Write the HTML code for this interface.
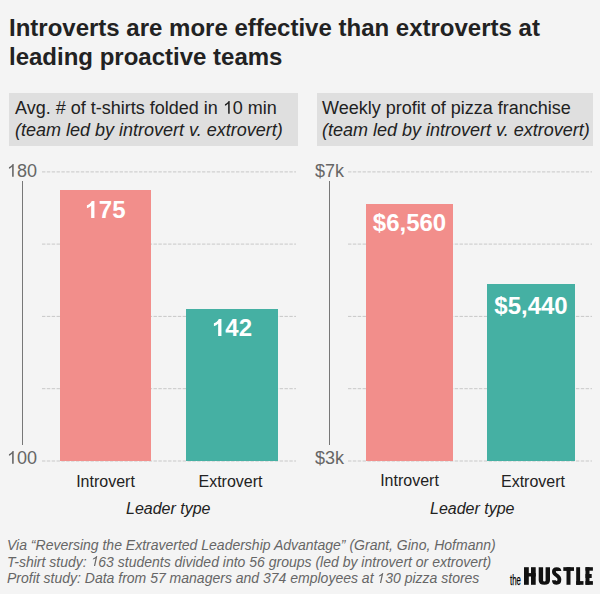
<!DOCTYPE html>
<html><head><meta charset="utf-8">
<style>
html,body{margin:0;padding:0;}
body{width:600px;height:594px;background:#f4f4f4;position:relative;overflow:hidden;font-family:"Liberation Sans",sans-serif;}
.a{position:absolute;white-space:nowrap;}
.title{left:9px;top:13px;font-size:24px;font-weight:bold;line-height:29px;color:#222;}
.hbox{position:absolute;top:93px;height:53px;background:#dfdfdf;}
.htxt{font-size:18px;line-height:22px;color:#222;}
.htxt i{font-style:italic;}
.tick{font-size:18px;color:#666;line-height:20px;}
.cat{font-size:16px;color:#222;line-height:18px;}
.lt{font-size:16px;color:#222;font-style:italic;line-height:18px;}
.val{font-size:24px;font-weight:bold;color:#fff;line-height:28px;text-align:center;}
.foot{left:7px;top:537px;font-size:14px;line-height:16.5px;font-style:italic;color:#666;}
.one{width:0.556em;height:0.716em;vertical-align:baseline;fill:currentColor;}
.pink{position:absolute;background:#f28e8b;}
.teal{position:absolute;background:#45b0a3;}
</style></head><body>
<div class="a title">Introverts are more effective than extroverts at<br>leading proactive teams</div>

<div class="hbox" style="left:9px;width:289px;"></div>
<div class="hbox" style="left:317px;width:276px;"></div>
<div class="a htxt" style="left:15px;top:97px;">Avg. # of t-shirts folded in <svg class="one" viewBox="0 0 1139 1466"><path d="M763,1466 H583 V319 Q518,381 412,443 Q306,505 222,536 V362 Q373,291 486,190 Q599,89 646,0 H763 Z"/></svg>0 min<br><i>(team led by introvert v. extrovert)</i></div>
<div class="a htxt" style="left:322px;top:97px;">Weekly profit of pizza franchise<br><i>(team led by introvert v. extrovert)</i></div>

<svg class="a" style="left:0;top:0;" width="600" height="594">
  <g stroke="#c8c8c8" stroke-width="1" stroke-dasharray="3.4 1.45">
    <line x1="42" y1="171.9" x2="296" y2="171.9"/>
    <line x1="42" y1="244.1" x2="296" y2="244.1"/>
    <line x1="42" y1="316.4" x2="296" y2="316.4"/>
    <line x1="42" y1="388.7" x2="296" y2="388.7"/>
    <line x1="42" y1="461" x2="296" y2="461"/>
    <line x1="348" y1="171.9" x2="592" y2="171.9"/>
    <line x1="348" y1="244.1" x2="592" y2="244.1"/>
    <line x1="348" y1="316.4" x2="592" y2="316.4"/>
    <line x1="348" y1="388.7" x2="592" y2="388.7"/>
    <line x1="348" y1="461" x2="592" y2="461"/>
  </g>
  <g stroke="#777" stroke-width="1">
    <line x1="22.5" y1="181" x2="22.5" y2="445"/>
    <line x1="329.5" y1="181" x2="329.5" y2="445"/>
  </g>
</svg>

<div class="a tick" style="left:0;width:37px;text-align:right;top:161px;"><svg class="one" viewBox="0 0 1139 1466"><path d="M763,1466 H583 V319 Q518,381 412,443 Q306,505 222,536 V362 Q373,291 486,190 Q599,89 646,0 H763 Z"/></svg>80</div>
<div class="a tick" style="left:0;width:37px;text-align:right;top:448px;"><svg class="one" viewBox="0 0 1139 1466"><path d="M763,1466 H583 V319 Q518,381 412,443 Q306,505 222,536 V362 Q373,291 486,190 Q599,89 646,0 H763 Z"/></svg>00</div>
<div class="a tick" style="left:300px;width:44px;text-align:right;top:161px;">$7k</div>
<div class="a tick" style="left:300px;width:44px;text-align:right;top:448px;">$3k</div>

<div class="pink" style="left:60px;top:190px;width:91px;height:271px;"></div>
<div class="teal" style="left:186px;top:309px;width:92px;height:152px;"></div>
<div class="pink" style="left:366px;top:204px;width:87px;height:257px;"></div>
<div class="teal" style="left:487px;top:284px;width:88px;height:177px;"></div>

<div class="a val" style="left:60px;width:91px;top:196px;"><svg class="one" viewBox="0 0 1139 1466"><path d="M806,1466 H525 V407 Q371,551 162,620 V365 Q272,329 401,229 Q530,129 578,0 H806 Z"/></svg>75</div>
<div class="a val" style="left:186px;width:92px;top:314px;"><svg class="one" viewBox="0 0 1139 1466"><path d="M806,1466 H525 V407 Q371,551 162,620 V365 Q272,329 401,229 Q530,129 578,0 H806 Z"/></svg>42</div>
<div class="a val" style="left:366px;width:87px;top:208.5px;">$6,560</div>
<div class="a val" style="left:487px;width:88px;top:291.5px;">$5,440</div>

<div class="a cat" style="left:60px;width:91px;text-align:center;top:473px;">Introvert</div>
<div class="a cat" style="left:184.5px;width:92px;text-align:center;top:473px;">Extrovert</div>
<div class="a cat" style="left:366px;width:87px;text-align:center;top:472px;">Introvert</div>
<div class="a cat" style="left:489px;width:88px;text-align:center;top:473px;">Extrovert</div>

<div class="a lt" style="left:126px;top:500px;">Leader type</div>
<div class="a lt" style="left:430px;top:500px;">Leader type</div>

<div class="a foot">Via “Reversing the Extraverted Leadership Advantage” (Grant, Gino, Hofmann)<br>T-shirt study: <svg class="one" style="transform:skewX(-12deg)" viewBox="0 0 1139 1466"><path d="M763,1466 H583 V319 Q518,381 412,443 Q306,505 222,536 V362 Q373,291 486,190 Q599,89 646,0 H763 Z"/></svg>63 students divided into 56 groups (led by introvert or extrovert)<br>Profit study: Data from 57 managers and 374 employees at <svg class="one" style="transform:skewX(-12deg)" viewBox="0 0 1139 1466"><path d="M763,1466 H583 V319 Q518,381 412,443 Q306,505 222,536 V362 Q373,291 486,190 Q599,89 646,0 H763 Z"/></svg>30 pizza stores</div>

<div class="a" style="left:510px;top:572.5px;font-size:14px;line-height:14px;color:#000;transform:scaleX(0.56);-webkit-text-stroke:0.25px #000;transform-origin:0 0;">the</div>
<svg class="a" style="left:505px;top:560px;" width="95" height="34" viewBox="0 0 95 34">
<g fill="#111">
<rect x="19" y="7.2" width="4.8" height="17.6"/><rect x="26" y="7.2" width="4.7" height="17.6"/><rect x="19" y="13.1" width="11.7" height="3.4"/>
<path d="M33.7,7.2 H38.1 V20.6 Q38.1,21.6 39.35,21.6 Q40.6,21.6 40.6,20.6 V7.2 H45 V20.2 Q45,24.8 39.35,24.8 Q33.7,24.8 33.7,20.2 Z"/>
<rect x="58.3" y="7.2" width="10.7" height="3.7"/><rect x="61.5" y="7.2" width="4" height="17.6"/>
<rect x="71.2" y="7.2" width="3.9" height="17.6"/><rect x="71.2" y="21.1" width="7.3" height="3.7"/>
<rect x="80.5" y="7.2" width="4" height="17.6"/><rect x="80.5" y="7.2" width="7.4" height="3.5"/><rect x="80.5" y="14" width="6.2" height="4"/><rect x="80.5" y="21.1" width="7.4" height="3.7"/>
</g>
<path d="M54.4,11 C54.4,9.6 53.3,9.1 51.7,9.1 C49.8,9.1 48.9,10 48.9,11.7 C48.9,13.6 50.5,14.6 52,15.6 C53.5,16.6 54.4,17.5 54.4,19.6 C54.4,21.7 53.3,22.9 51.7,22.9 C50,22.9 48.9,22 48.9,20.2" fill="none" stroke="#111" stroke-width="3.8"/>
</svg>
</body></html>
